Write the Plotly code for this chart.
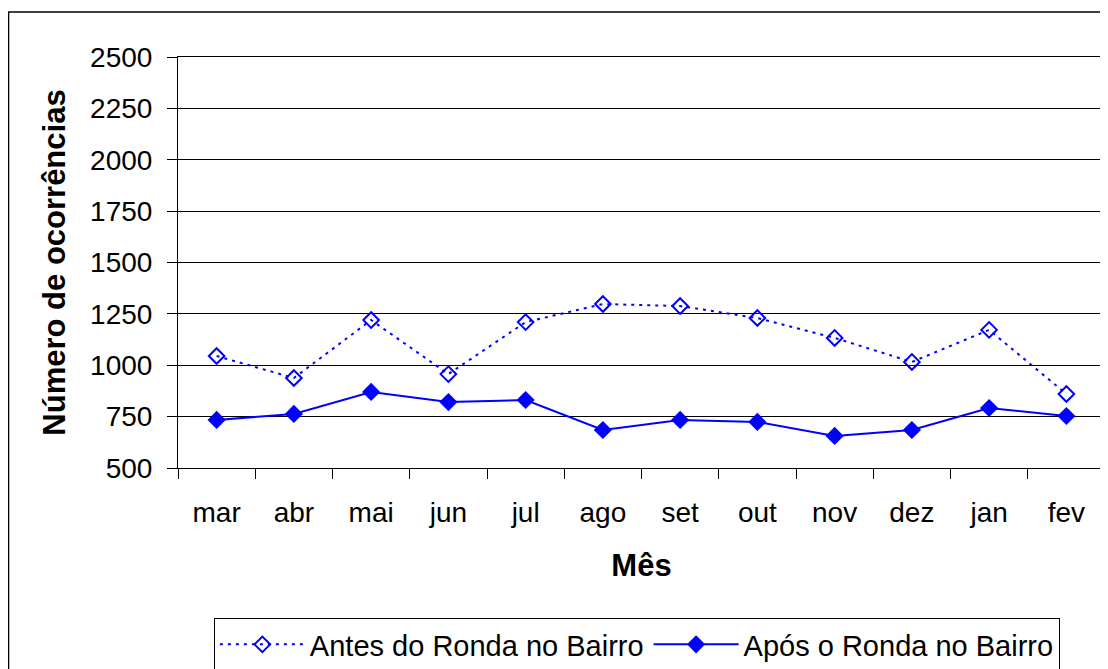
import plotly.graph_objects as go

months = ["mar", "abr", "mai", "jun", "jul", "ago", "set", "out", "nov", "dez", "jan", "fev"]
antes = [1045, 938, 1220, 957, 1210, 1298, 1288, 1230, 1133, 1016, 1172, 860]
apos = [734, 763, 870, 821, 831, 685, 734, 724, 656, 685, 792, 753]
y_ticks = [500, 750, 1000, 1250, 1500, 1750, 2000, 2250, 2500]

FONT = "Liberation Sans, Arial, sans-serif"
BLUE = "#0000FF"

fig = go.Figure()
fig.add_trace(go.Scatter(
    x=months, y=antes, name="Antes do Ronda no Bairro", mode="lines+markers",
    line=dict(color=BLUE, width=2, dash="3px,5px"),
    marker=dict(symbol="diamond-open", size=12, color=BLUE, line=dict(width=2, color=BLUE)),
))
fig.add_trace(go.Scatter(
    x=months, y=apos, name="Após o Ronda no Bairro", mode="lines+markers",
    line=dict(color=BLUE, width=2),
    marker=dict(symbol="diamond", size=14, color=BLUE),
))

fig.update_layout(
    width=1108, height=669,
    margin=dict(l=170, r=11, t=49, b=209, autoexpand=False),
    paper_bgcolor="white", plot_bgcolor="white",
    font=dict(family=FONT, size=28, color="black"),
    showlegend=True,
    legend=dict(
        orientation="h", x=0.495, xanchor="center", y=-0.365, yanchor="top",
        bordercolor="black", borderwidth=1, font=dict(size=29, family=FONT),
        itemwidth=85, tracegroupgap=0,
    ),
    xaxis=dict(
        type="category", range=[-0.5, len(months) - 0.5],
        tickson="boundaries", ticks="outside", ticklen=10,
        tickcolor="black", showline=True, linecolor="black", linewidth=1,
        mirror=True, showgrid=False, ticklabelstandoff=19,
        tickfont=dict(size=28), automargin=False,
        title=dict(text="<b>Mês</b>", font=dict(size=31), standoff=27),
    ),
    yaxis=dict(
        range=[500, 2500], tickvals=y_ticks, ticks="outside", ticklen=10,
        tickcolor="black", showline=True, linecolor="black", linewidth=1,
        mirror=True, showgrid=True, gridcolor="black", gridwidth=1,
        zeroline=False, ticklabelstandoff=9, tickfont=dict(size=28), automargin=False,
        title=dict(text="<b>Número de ocorrências</b>", font=dict(size=31), standoff=15),
    ),
)

fig.add_shape(type="rect", xref="paper", yref="paper",
              x0=-0.1828, x1=1.0025, y0=-0.497, y1=1.1095,
              line=dict(color="black", width=1.5), fillcolor="rgba(0,0,0,0)", layer="below")

fig.write_html("out.html")
